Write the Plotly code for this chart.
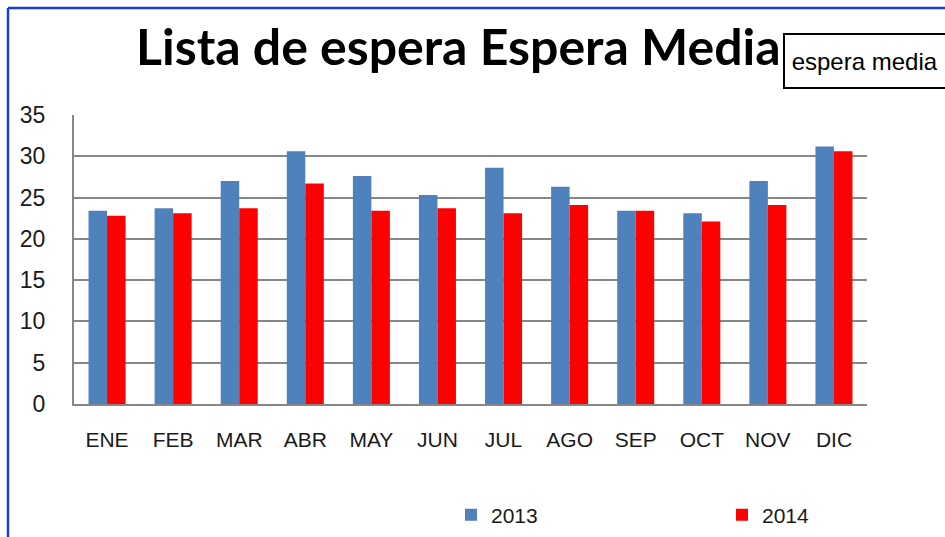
import plotly.graph_objects as go

months = ["ENE", "FEB", "MAR", "ABR", "MAY", "JUN", "JUL", "AGO", "SEP", "OCT", "NOV", "DIC"]
values_2013 = [23.4, 23.7, 27.0, 30.6, 27.6, 25.3, 28.6, 26.3, 23.4, 23.1, 27.0, 31.2]
values_2014 = [22.8, 23.1, 23.7, 26.7, 23.4, 23.7, 23.1, 24.1, 23.4, 22.1, 24.1, 30.6]
y_ticks = [0, 5, 10, 15, 20, 25, 30, 35]
title_text = "Lista de espera Espera Media"
box_text = "espera media"

W, H = 945, 537
L, R, T, B = 74, 867, 115, 404  # plot area pixel bounds


def px(x):
    return (x - L) / (R - L)


def py(y):
    return (B - y) / (B - T)


legend_font = dict(family="Liberation Sans, Arial, sans-serif", size=21, color="#1a1a1a")

fig = go.Figure()
fig.add_trace(go.Bar(x=months, y=values_2013, name="2013", marker_color="#4F81BD",
                     marker_line_width=0, legend="legend"))
fig.add_trace(go.Bar(x=months, y=values_2014, name="2014", marker_color="#FF0000",
                     marker_line_width=0, legend="legend2"))

tick_font = dict(family="Liberation Sans, Arial, sans-serif", size=21, color="#1a1a1a")

fig.update_layout(
    width=W, height=H,
    margin=dict(l=L, r=W - R, t=T, b=H - B, pad=0, autoexpand=False),
    paper_bgcolor="white", plot_bgcolor="white",
    barmode="group", bargap=0.44, bargroupgap=0,
    showlegend=True,
    legend=dict(orientation="h", x=px(451), y=py(515), xanchor="left", yanchor="middle",
                font=legend_font, bgcolor="rgba(0,0,0,0)"),
    legend2=dict(orientation="h", x=px(722), y=py(515), xanchor="left", yanchor="middle",
                 font=legend_font, bgcolor="rgba(0,0,0,0)"),
    xaxis=dict(showgrid=False, showline=True, linecolor="#878787", linewidth=2,
               ticks="", tickfont=tick_font, ticklabelstandoff=16, fixedrange=True),
    yaxis=dict(range=[0, 35], tickvals=y_ticks, showgrid=True, gridcolor="#878787",
               gridwidth=2, showline=True, linecolor="#878787", linewidth=2,
               zeroline=False, ticks="", tickfont=dict(tick_font, size=23),
               ticklabelstandoff=22, fixedrange=True),
)

# Title
fig.add_annotation(text="<b>" + title_text + "</b>", xref="paper", yref="paper",
                   x=px(458), y=py(46), xanchor="center", yanchor="middle",
                   showarrow=False,
                   font=dict(family="Lato, Open Sans, sans-serif", size=50, color="black"))

# Box
fig.add_annotation(text="&nbsp;" + box_text, xref="paper", yref="paper",
                   x=px(783), y=py(33), xanchor="left", yanchor="top",
                   showarrow=False, align="left", width=175, height=52,
                   bordercolor="black", borderwidth=2, borderpad=0, bgcolor="white",
                   font=dict(family="Liberation Sans, sans-serif", size=24, color="black"))

# Blue frame (top and left edges)
fig.add_shape(type="line", xref="paper", yref="paper", x0=px(8), x1=px(W + 5),
              y0=py(8), y1=py(8), line=dict(color="#1a3fd6", width=2.5))
fig.add_shape(type="line", xref="paper", yref="paper", x0=px(8), x1=px(8),
              y0=py(8), y1=py(H + 5), line=dict(color="#1a3fd6", width=2.5))

fig.write_html("out.html")
